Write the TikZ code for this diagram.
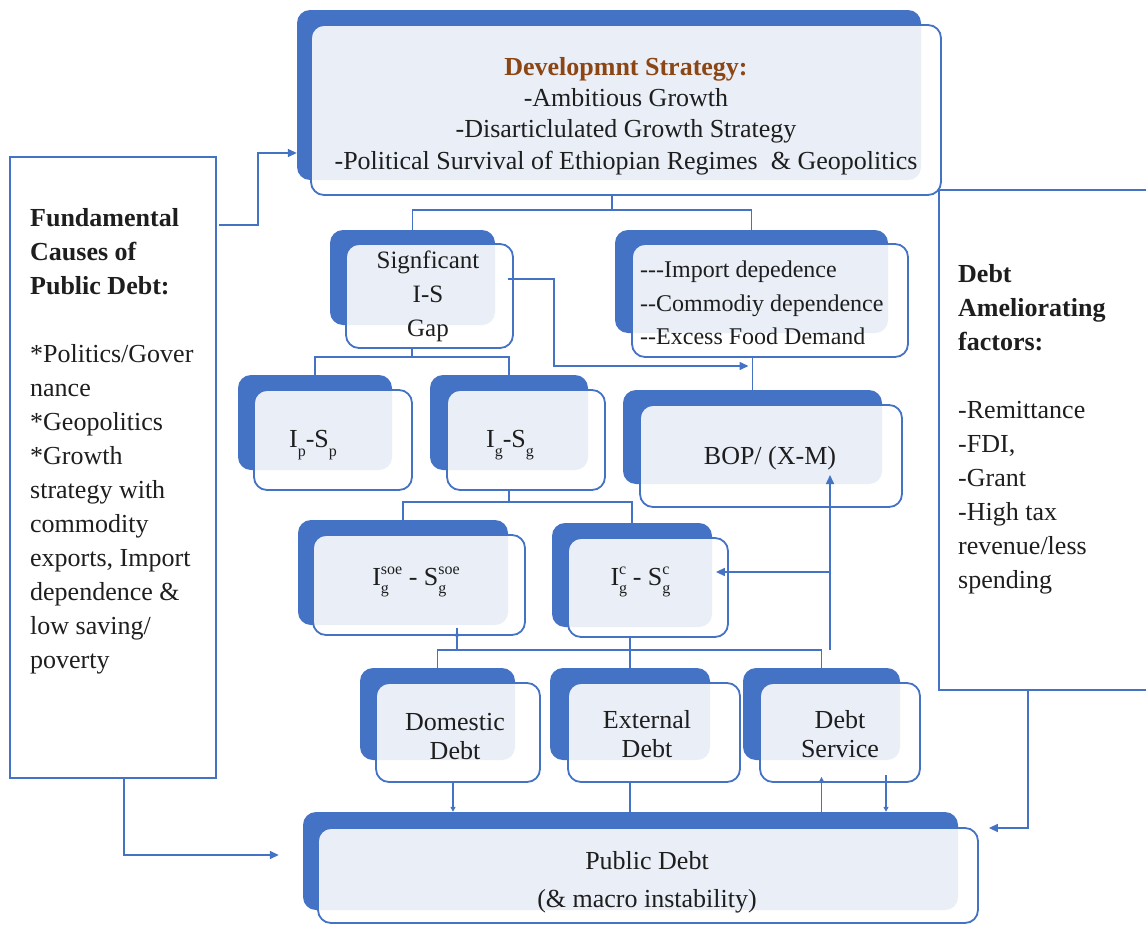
\documentclass[tikz,border=0pt]{standalone}
\usepackage{fontspec}
\setmainfont{Liberation Serif}
\usetikzlibrary{arrows.meta,fit,calc}
\definecolor{bblue}{RGB}{68,114,196}
\definecolor{lfill}{RGB}{233,238,247}
\definecolor{brownt}{RGB}{140,70,20}
\definecolor{tcol}{RGB}{30,30,30}
\newcommand\boxrad{13pt}
\newcommand\sbs[1]{\raisebox{-0.32em}{\fontsize{16}{16}\selectfont #1}}
\newcommand\gs[1]{\rlap{\raisebox{-0.32em}{\fontsize{16}{16}\selectfont g}}\raisebox{0.42em}{\fontsize{16}{16}\selectfont #1}}
\newcommand\hy{-\kern0pt }
\newcommand\twobox[9]{%
 \coordinate (#1b1) at (#2,#3); \coordinate (#1b2) at (#4,#5);
 \coordinate (#1f1) at (#6,#7); \coordinate (#1f2) at (#8,#9);
 \node[backbox, fit=(#1b1)(#1b2)] (#1b) {};
 \fill[white, rounded corners=\boxrad] (#1f1) rectangle (#1f2);
 \begin{scope}\clip[rounded corners=\boxrad] (#1b1) rectangle (#1b2);
 \fill[lfill, rounded corners=\boxrad] (#1f1) rectangle (#1f2);\end{scope}
 \node[frontbox, fit=(#1f1)(#1f2)] (#1) {};}
\begin{document}
\begin{tikzpicture}[x=1pt,y=-1pt,
  backbox/.style={fill=bblue, draw=none, rounded corners=\boxrad, inner sep=0pt},
  frontbox/.style={draw=bblue, line width=1.8pt, rounded corners=\boxrad, inner sep=0pt},
  sidebox/.style={draw=bblue, line width=1.8pt, fill=white, inner sep=0pt},
  txt/.style={text=tcol, inner sep=0pt, align=center, font=\fontsize{26}{29}\selectfont},
  conn/.style={draw=bblue, line width=1.5pt},
  arr/.style={conn, -{Triangle[length=9pt,width=8pt]}},
  sarr/.style={conn, -{Triangle[length=5pt,width=5pt]}}]
\useasboundingbox (0,0) rectangle (1146,926);

% side boxes
\coordinate (fund1) at (10,157); \coordinate (fund2) at (216,778);
\node[sidebox, fit=(fund1)(fund2)] (fund) {};
\coordinate (ame1) at (939,190); \coordinate (ame2) at (1170,690);
\node[sidebox, fit=(ame1)(ame2)] (ame) {};

% boxes
\twobox{ds}{297}{10}{921}{180}{311}{25}{941}{195}
\twobox{sig}{330}{230}{495}{325}{346}{244}{513}{348}
\twobox{imp}{615}{230}{888}{333}{632}{244}{908}{357}
\twobox{ip}{238}{375}{392}{470}{254}{390}{412}{490}
\twobox{ig}{430}{375}{588}{470}{447}{390}{605}{490}
\twobox{bop}{623}{390}{882}{484}{640}{405}{902}{507}
\twobox{soe}{298}{520}{508}{625}{313}{535}{525}{635}
\twobox{igc}{552}{523}{712}{627}{568}{538}{728}{637}
\twobox{dom}{360}{668}{515}{760}{376}{683}{540}{782}
\twobox{ext}{550}{668}{710}{760}{568}{683}{740}{782}
\twobox{dsv}{743}{668}{900}{760}{760}{683}{920}{782}
\twobox{pub}{303}{812}{958}{910}{318}{828}{978}{923}

% texts
\node[txt, font=\fontsize{26}{31.3}\selectfont] (dst) at (626,116)
 {\textcolor{brownt}{\bfseries Developmnt Strategy:}\\-Ambitious Growth\\-Disarticlulated Growth Strategy\\-Political Survival of Ethiopian Regimes\ \ \& Geopolitics};
\node[txt, font=\fontsize{25}{34}\selectfont] (sigt) at (428,296) {Signficant\\I-S\\Gap};
\node[txt, anchor=west, align=left, font=\fontsize{24}{33.5}\selectfont] (impt) at (640,303)
 {\hy\hy\hy Import depedence\\\hy\hy Commodiy dependence\\\hy\hy Excess Food Demand};
\node[txt] (ipt) at (313,445) {I\sbs{p}-S\sbs{p}};
\node[txt] (igt) at (510,445) {I\sbs{g}-S\sbs{g}};
\node[txt] (bopt) at (770,458) {BOP/ (X-M)};
\node[txt] (soet) at (416,582) {I\gs{soe} - S\gs{soe}};
\node[txt] (igct) at (640,582) {I\gs{c} - S\gs{c}};
\node[txt] (domt) at (455,737) {Domestic\\Debt};
\node[txt] (extt) at (647,734) {External\\Debt};
\node[txt] (dsvt) at (840,734) {Debt\\Service};
\node[txt, font=\fontsize{26}{38}\selectfont] (pubt) at (647,882) {Public Debt\\(\& macro instability)};
\node[txt, anchor=west, align=left, font=\fontsize{26}{34}\selectfont] (fundt) at (30,441)
 {\textbf{Fundamental}\\\textbf{Causes of}\\\textbf{Public Debt:}\\[34pt]*Politics/Gover\\nance\\*Geopolitics\\*Growth\\strategy with\\commodity\\exports, Import\\dependence \&\\low saving/\\poverty};
\node[txt, anchor=west, align=left, font=\fontsize{26}{34}\selectfont] (amet) at (958,429)
 {\textbf{Debt}\\\textbf{Ameliorating}\\\textbf{factors:}\\[34pt]-Remittance\\-FDI,\\-Grant\\-High tax\\revenue/less\\spending};

% connectors
\coordinate (j1) at (612,210);
\draw[conn] (ds.south -| j1) -- (j1);
\draw[conn] (sigb.north) |- (j1) -| (impb.north);
\coordinate (j2) at (412,357);
\draw[conn] (sig.south -| j2) -- (j2);
\draw[conn] (ipb.north) |- (j2) -| (igb.north);
\coordinate (a1) at (554,366);
\draw[arr] ($(sig.east)+(-6,-17)$) -| (a1) -- ($(a1 -| bopb.north)+(-4,0)$);
\draw[conn] (bopb.north |- imp.south) -- (bopb.north);
\coordinate (j3) at (509,502);
\draw[conn] (ig.south -| j3) -- (j3);
\draw[conn] (soeb.north) |- (j3) -| (igcb.north);
\coordinate (j4) at (630,650);
\draw[conn] (igc.south -| j4) -- (j4);
\draw[conn] (domb.north) |- (j4) -| (dsvb.north);
\draw[conn] (j4) -- (extb.north);
\draw[conn] ($(soe.south)+(38,0)$) -- ($(soe.south |- j4)+(38,0)$);
\draw[sarr] ($(soe.south)+(38,-8)$) -- ($(soe.south)+(38,3)$);
\coordinate (a5) at (830,650);
\coordinate (a6) at (830,475);
\draw[arr] (a5) -- (a6);
\coordinate (a7) at (830,572);
\draw[arr] (a7) -- ($(igc.east |- a7)+(-13,0)$);
\draw[sarr] ($(dom.south)+(-5,0)$) -- ($(dom.south |- pubb.north)+(-5,0)$);
\draw[conn] (extb.south |- ext.south) -- (extb.south |- pubb.north);
\draw[sarr] (dsvb.south |- pubb.north) -- ($(dsvb.south |- dsv.south)+(0,-6)$);
\draw[sarr] ($(dsv.south)+(46,-8)$) -- ($(dsv.south |- pubb.north)+(46,0)$);
\coordinate (a2) at (258,153);
\draw[arr] ($(fund.north east)+(2,69)$) -| (a2) -- (dsb.west |- a2);
\coordinate (a3) at (124,855);
\draw[arr] (fund.south -| a3) -- (a3) -- ($(pubb.west |- a3)+(-24,0)$);
\coordinate (a4) at (1028,828);
\draw[arr] (ame.south -| a4) -- (a4) -- ($(pub.east |- a4)+(10,0)$);
\end{tikzpicture}
\end{document}
